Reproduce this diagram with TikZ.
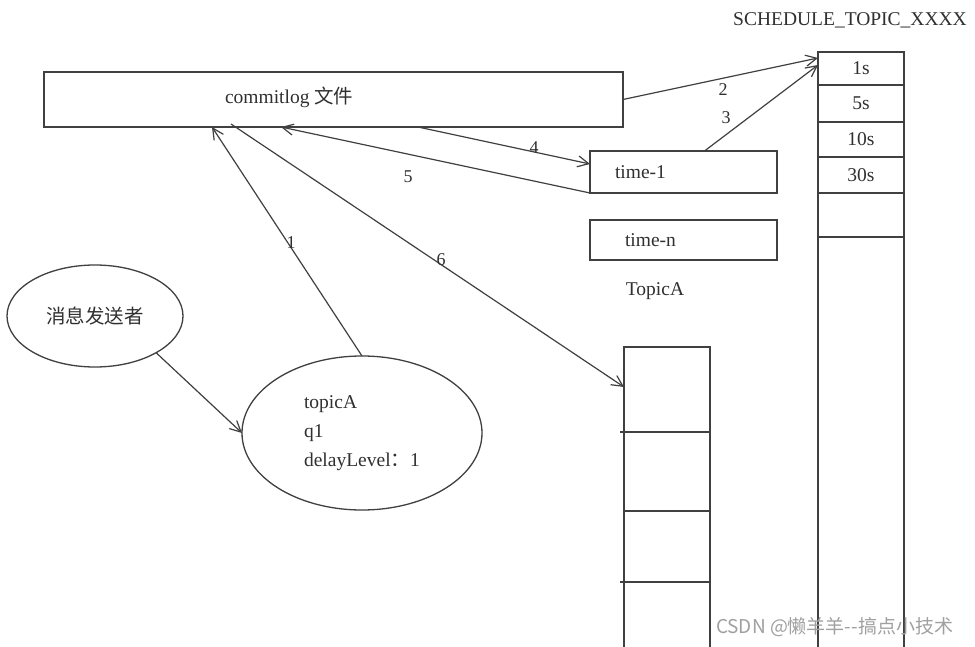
\documentclass[tikz,border=0pt]{standalone}
\usepackage{fontspec}
\setmainfont{Liberation Serif}
\newfontfamily\cjk{Noto Sans CJK SC}
\usetikzlibrary{shapes.geometric,arrows.meta,calc}
\definecolor{linec}{HTML}{404040}
\definecolor{txtc}{HTML}{303030}
\definecolor{wmc}{HTML}{A0A0A0}
\begin{document}
\begin{tikzpicture}[x=1pt,y=-1pt,
  every node/.style={font=\fontsize{19.5}{29}\selectfont, text=txtc, inner sep=0pt, outer sep=0pt},
  box/.style={draw=linec, line width=1.3pt, rectangle, inner sep=0pt},
  cell/.style={box, minimum width=86pt},
  oval/.style={draw=linec, line width=1.3pt, ellipse, inner sep=0pt},
  tick/.style={box, minimum width=4pt, minimum height=0pt},
  arr/.style={draw=linec, line width=1.2pt, -{Straight Barb[length=11pt,width=11pt,line width=1.2pt]}},
  num/.style={font=\fontsize{18}{20}\selectfont}]
\useasboundingbox[fill=white] (0,0) rectangle (975,647);

% commitlog box
\node[box, minimum width=579pt, minimum height=55pt] (c) at (333.5,99.5) {};
\node[anchor=west] (ct) at (225,97) {commitlog {\cjk 文件}};

% schedule topic column (open at the bottom, runs off the picture)
\node (st) at (850,20) {SCHEDULE\_TOPIC\_XXXX};
\node[cell, minimum height=620pt] (scol) at (861,362) {};
\node[cell, minimum height=33pt] (s1) at (861,68.5) {1s};
\node[cell, minimum height=37pt] (s2) at (861,103.5) {5s};
\node[cell, minimum height=35pt] (s3) at (861,139.5) {10s};
\node[cell, minimum height=36pt] (s4) at (861,175) {30s};
\node[cell, minimum height=44pt] (s5) at (861,215) {};

% time boxes
\node[box, minimum width=187pt, minimum height=42pt] (t1) at (683.5,172) {};
\node[anchor=west] (t1t) at ($(t1.west)+(25,0)$) {time-1};
\node[box, minimum width=187pt, minimum height=40pt] (tn) at (683.5,240) {};
\node[anchor=west] (tnt) at ($(tn.west)+(35,0)$) {time-n};
\node (ta) at (655,291) {TopicA};

% left column (TopicA queue), open at the bottom
\node[cell, minimum height=326pt] (lcol) at (667,510) {};
\node[cell, minimum height=85pt] (l1) at (667,389.5) {};
\node[cell, minimum height=79pt] (l2) at (667,471.5) {};
\node[cell, minimum height=71pt] (l3) at (667,546.5) {};
\node[tick, anchor=east] (k1) at (l1.south west) {};
\node[tick, anchor=east] (k3) at (l3.south west) {};

% ellipses
\node[oval, minimum width=176pt, minimum height=102pt] (snd) at (95,316) {{\cjk 消息发送者}};
\node[oval, minimum width=240pt, minimum height=154pt, align=left] (msg) at (362,433)
  {topicA\\q1\\delayLevel{\cjk ：}1};

% connectors
\draw[arr] (snd.-31) -- (msg.west);
\draw[arr] (msg.north) -- ($(c.south west)+(168,0)$);
\node[num] at (291,243) {1};
\draw[arr] (c.east) -- ($(scol.north west)+(0,6)$);
\node[num] at (723,90) {2};
\draw[arr] ($(t1.north)+(21,0)$) -- ($(scol.north west)+(0,13)$);
\node[num] at (726,118) {3};
\draw[arr] ($(c.south west)+(374,0)$) -- ($(t1.west)+(0,-8)$);
\node[num] at (534,148) {4};
\draw[arr] (t1.south west) -- ($(c.south west)+(237,0)$);
\node[num] at (408,177) {5};
\draw[arr] ($(c.south west)+(187,-3)$) -- ($(lcol.north west)+(0,40)$);
\node[num] at (441,260) {6};

% watermark
\node[text=wmc, font=\cjk\fontsize{19}{21}\selectfont, anchor=west] (wm) at (716,627) {CSDN @懒羊羊--搞点小技术};
\end{tikzpicture}
\end{document}
